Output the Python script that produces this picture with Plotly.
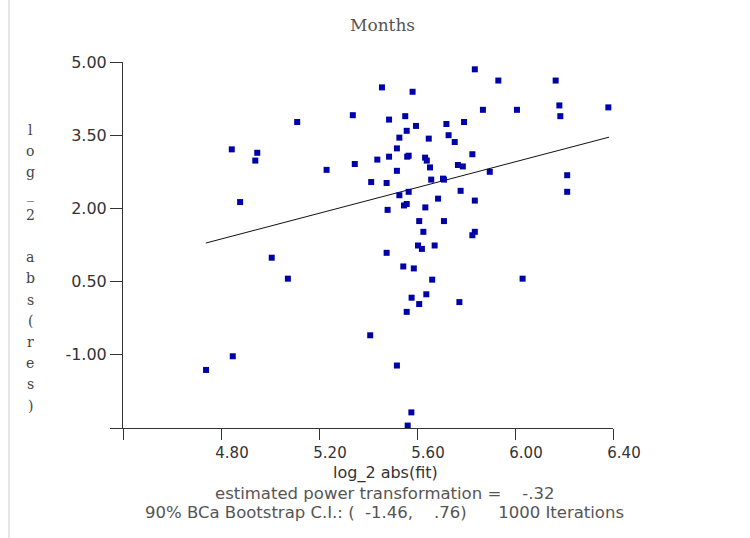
import plotly.graph_objects as go

# ---- data ----
fit_log2 = [5.836, 5.457, 5.582, 5.338, 5.111, 5.486, 5.552, 5.720, 5.792, 5.596,
            5.558, 5.528, 5.648, 5.729, 5.754, 5.518, 4.844, 4.948, 4.940, 5.486,
            5.566, 5.560, 5.633, 5.640, 5.438, 5.826, 5.346, 5.231, 5.518, 5.653,
            5.767, 5.787, 5.413, 5.476, 5.658, 5.706, 5.710, 4.878, 5.528, 5.566,
            5.778, 5.686, 5.836, 5.547, 5.558, 5.634, 5.480, 5.609, 5.710, 5.626,
            5.826, 5.836, 5.604, 5.672, 5.620, 5.932, 6.166, 5.869, 6.008, 6.181,
            6.185, 6.381, 5.897, 6.213, 6.213, 5.476, 5.007, 5.544, 5.587, 5.073,
            5.662, 5.638, 5.578, 5.609, 5.773, 5.558, 5.409, 4.848, 4.739, 5.518,
            5.577, 5.562, 6.031]
res_log2 = [4.85, 4.48, 4.39, 3.91, 3.77, 3.82, 3.89, 3.73, 3.77, 3.69,
            3.59, 3.45, 3.43, 3.50, 3.36, 3.23, 3.21, 3.14, 2.98, 3.06,
            3.08, 3.06, 3.04, 2.98, 3.00, 3.11, 2.91, 2.79, 2.77, 2.84,
            2.89, 2.86, 2.54, 2.52, 2.59, 2.61, 2.59, 2.13, 2.27, 2.34,
            2.36, 2.20, 2.16, 2.06, 2.09, 2.02, 1.97, 1.74, 1.74, 1.52,
            1.45, 1.52, 1.24, 1.24, 1.17, 4.62, 4.62, 4.02, 4.02, 4.11,
            3.89, 4.07, 2.75, 2.68, 2.34, 1.09, 0.99, 0.81, 0.77, 0.56,
            0.54, 0.24, 0.17, 0.04, 0.08, -0.12, -0.60, -1.03, -1.31, -1.22,
            -2.18, -2.45, 0.56]

fit_line_x = [4.738, 6.384]
fit_line_y = [1.29, 3.46]

x_tickvals = [4.40, 4.80, 5.20, 5.60, 6.00, 6.40]
x_ticktext = ["", "4.80", "5.20", "5.60", "6.00", "6.40"]
y_tickvals = [-2.50, -1.00, 0.50, 2.00, 3.50, 5.00]
y_ticktext = ["", "-1.00", "0.50", "2.00", "3.50", "5.00"]

title_text = "Months"
x_title = "log_2 abs(fit)"
y_title = "log_2 abs(res)"
NB = "\u00a0"
footer1 = "estimated power transformation =" + NB * 4 + "-.32"
footer2 = ("90% BCa Bootstrap C.I.: (" + NB * 2 + "-1.46," + NB * 4 + ".76)"
           + NB * 6 + "1000 Iterations")

# ---- layout geometry (pixels) ----
W, H = 750, 538
L, R, T, B = 123, 137, 62, 110
PW, PH = W - L - R, H - T - B


def px(xp):
    return (xp - L) / PW


def py(yp):
    return (H - B - yp) / PH


SANS = "DejaVu Sans"
SERIF = "DejaVu Serif"


def note(text, xp, yp, family, size, color):
    return dict(text=text, x=px(xp), y=py(yp), xref="paper", yref="paper",
                xanchor="center", yanchor="middle", showarrow=False,
                font=dict(family=family, size=size, color=color))


fig = go.Figure()
fig.add_trace(go.Scatter(
    x=fit_line_x, y=fit_line_y, mode="lines",
    line=dict(color="#111111", width=1), hoverinfo="skip", showlegend=False))
fig.add_trace(go.Scatter(
    x=fit_log2, y=res_log2, mode="markers",
    marker=dict(symbol="square", size=6, color="#0000a8", line=dict(width=0)),
    cliponaxis=False, showlegend=False))

annotations = [
    note(title_text, 382, 25, SERIF, 17, "#555555"),
    note(x_title, 385, 473, SANS, 16, "#333333"),
    note(footer1, 384, 493, SANS, 16.5, "#555555"),
    note(footer2, 384, 512, SANS, 16.5, "#555555"),
]
for i, ch in enumerate(y_title):
    if ch == " ":
        continue
    annotations.append(note(ch, 30, 130 + i * 21.2, SERIF, 14, "#444444"))

fig.update_layout(
    width=W, height=H,
    margin=dict(l=L, r=R, t=T, b=B, pad=0),
    paper_bgcolor="white", plot_bgcolor="white",
    annotations=annotations,
    shapes=[dict(type="line", xref="paper", yref="paper",
                 x0=px(9), x1=px(9), y0=py(H), y1=py(0),
                 line=dict(color="#e6e6e6", width=2))],
    xaxis=dict(range=[4.40, 6.40], tickmode="array", tickvals=x_tickvals, ticktext=x_ticktext,
               showgrid=False, zeroline=False, showline=True, linecolor="#333333", linewidth=1,
               ticks="outside", ticklen=11, tickcolor="#333333", tickwidth=1,
               ticklabelshift=11,
               tickfont=dict(family=SANS, size=15, color="#333333")),
    yaxis=dict(range=[-2.50, 5.00], tickmode="array", tickvals=y_tickvals, ticktext=y_ticktext,
               showgrid=False, zeroline=False, showline=True, linecolor="#333333", linewidth=1,
               ticks="outside", ticklen=12, tickcolor="#333333", tickwidth=1,
               tickfont=dict(family=SANS, size=16, color="#333333")),
)

fig.write_html("out.html")
